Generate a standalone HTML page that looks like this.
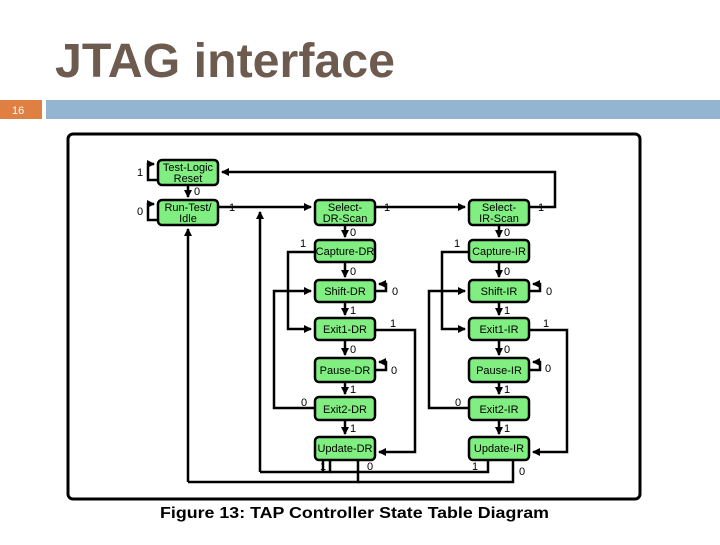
<!DOCTYPE html>
<html><head><style>
body{margin:0;width:720px;height:540px;background:#fff;overflow:hidden;font-family:"Liberation Sans",sans-serif}
</style></head><body>
<svg width="720" height="540" xmlns="http://www.w3.org/2000/svg" font-family="Liberation Sans, sans-serif">
<defs>
<marker id="a" markerWidth="8" markerHeight="8" refX="7" refY="4" orient="auto" markerUnits="userSpaceOnUse"><path d="M0,0 L8,4 L0,8z" fill="#000"/></marker>
</defs>
<text x="55" y="77" font-size="48" font-weight="bold" fill="#6e5b50" textLength="340" lengthAdjust="spacingAndGlyphs">JTAG interface</text>
<rect x="0" y="100" width="42" height="19" fill="#e07f42"/>
<text x="12" y="114" font-size="11" fill="#fff">16</text>
<rect x="46" y="100" width="674" height="19" fill="#94b5d2"/>
<rect x="68" y="134" width="572" height="365" rx="5" fill="#fff" stroke="#000" stroke-width="3"/>
<g stroke="#000" stroke-width="2.5" fill="none">
<polyline points="529,207 555,207 555,172 222,172" marker-end="url(#a)"/>
<polyline points="218,207 311,207" marker-end="url(#a)"/>
<polyline points="375,207 465,207" marker-end="url(#a)"/>
<line x1="260" y1="472" x2="260" y2="212" marker-end="url(#a)"/>
<line x1="188" y1="482" x2="188" y2="229" marker-end="url(#a)"/>
<polyline points="158,180 148,180 148,164 154,164" marker-end="url(#a)"/>
<polyline points="158,220 148,220 148,204 154,204" marker-end="url(#a)"/>
<line x1="188" y1="185" x2="188" y2="197" marker-end="url(#a)"/>
<line x1="345" y1="225" x2="345" y2="237" marker-end="url(#a)"/>
<line x1="345" y1="262" x2="345" y2="277" marker-end="url(#a)"/>
<line x1="345" y1="302" x2="345" y2="315" marker-end="url(#a)"/>
<line x1="345" y1="340" x2="345" y2="355" marker-end="url(#a)"/>
<line x1="345" y1="382" x2="345" y2="394" marker-end="url(#a)"/>
<line x1="345" y1="420" x2="345" y2="434" marker-end="url(#a)"/>
<line x1="499" y1="225" x2="499" y2="237" marker-end="url(#a)"/>
<line x1="499" y1="262" x2="499" y2="277" marker-end="url(#a)"/>
<line x1="499" y1="302" x2="499" y2="315" marker-end="url(#a)"/>
<line x1="499" y1="340" x2="499" y2="355" marker-end="url(#a)"/>
<line x1="499" y1="382" x2="499" y2="394" marker-end="url(#a)"/>
<line x1="499" y1="420" x2="499" y2="434" marker-end="url(#a)"/>
<polyline points="315,252 288,252 288,329 311,329" marker-end="url(#a)"/>
<polyline points="315,408 274,408 274,291 311,291" marker-end="url(#a)"/>
<polyline points="375,291 386,291 386,284 379,284" marker-end="url(#a)"/>
<polyline points="375,370 386,370 386,362 379,362" marker-end="url(#a)"/>
<polyline points="375,330 415,330 415,452 379,452" marker-end="url(#a)"/>
<polyline points="469,252 442,252 442,329 465,329" marker-end="url(#a)"/>
<polyline points="469,408 429,408 429,291 465,291" marker-end="url(#a)"/>
<polyline points="529,291 540,291 540,284 533,284" marker-end="url(#a)"/>
<polyline points="529,370 540,370 540,362 533,362" marker-end="url(#a)"/>
<polyline points="529,330 567,330 567,452 533,452" marker-end="url(#a)"/>
<polyline points="330,460 330,472 260,472"/>
<polyline points="323,460 323,472"/>
<polyline points="488,460 488,472 330,472"/>
<polyline points="358,460 358,482 188,482"/>
<polyline points="513,460 513,482 358,482"/>
</g>
<g fill="#80ee80" stroke="#000" stroke-width="2.5">
<rect x="158" y="160" width="60" height="25" rx="4"/>
<rect x="158" y="200" width="60" height="25" rx="4"/>
<rect x="315" y="200" width="60" height="25" rx="4"/>
<rect x="315" y="240" width="60" height="22" rx="4"/>
<rect x="315" y="280" width="60" height="22" rx="4"/>
<rect x="315" y="318" width="60" height="22" rx="4"/>
<rect x="315" y="358" width="60" height="24" rx="4"/>
<rect x="315" y="397" width="60" height="23" rx="4"/>
<rect x="315" y="437" width="60" height="23" rx="4"/>
<rect x="469" y="200" width="60" height="25" rx="4"/>
<rect x="469" y="240" width="60" height="22" rx="4"/>
<rect x="469" y="280" width="60" height="22" rx="4"/>
<rect x="469" y="318" width="60" height="22" rx="4"/>
<rect x="469" y="358" width="60" height="24" rx="4"/>
<rect x="469" y="397" width="60" height="23" rx="4"/>
<rect x="469" y="437" width="60" height="23" rx="4"/>
</g>
<g font-size="11" text-anchor="middle" fill="#000">
<text x="188" y="171">Test-Logic</text><text x="188" y="182">Reset</text>
<text x="188" y="211">Run-Test/</text><text x="188" y="222">Idle</text>
<text x="345" y="211">Select-</text><text x="345" y="222">DR-Scan</text>
<text x="345" y="255">Capture-DR</text>
<text x="345" y="295">Shift-DR</text>
<text x="345" y="333">Exit1-DR</text>
<text x="345" y="374">Pause-DR</text>
<text x="345" y="413">Exit2-DR</text>
<text x="345" y="452">Update-DR</text>
<text x="499" y="211">Select-</text><text x="499" y="222">IR-Scan</text>
<text x="499" y="255">Capture-IR</text>
<text x="499" y="295">Shift-IR</text>
<text x="499" y="333">Exit1-IR</text>
<text x="499" y="374">Pause-IR</text>
<text x="499" y="413">Exit2-IR</text>
<text x="499" y="452">Update-IR</text>
</g>
<g font-size="11" fill="#000">
<text x="137" y="176">1</text><text x="137" y="215">0</text><text x="194" y="195">0</text>
<text x="229" y="211">1</text><text x="384" y="211">1</text><text x="538" y="211">1</text>
<text x="350" y="236">0</text><text x="350" y="275">0</text><text x="350" y="314">1</text><text x="350" y="353">0</text><text x="350" y="393">1</text><text x="350" y="432">1</text>
<text x="504" y="236">0</text><text x="504" y="275">0</text><text x="504" y="314">1</text><text x="504" y="353">0</text><text x="504" y="393">1</text><text x="504" y="432">1</text>
<text x="300" y="247">1</text><text x="454" y="247">1</text>
<text x="392" y="295">0</text><text x="546" y="295">0</text>
<text x="391" y="374">0</text><text x="545" y="372">0</text>
<text x="390" y="327">1</text><text x="543" y="327">1</text>
<text x="301" y="406">0</text><text x="455" y="406">0</text>
<text x="320" y="470">1</text><text x="367" y="470">0</text><text x="472" y="470">1</text><text x="519" y="475">0</text>
</g>
<text x="160" y="518" font-size="16" font-weight="bold" textLength="389" lengthAdjust="spacingAndGlyphs">Figure 13:  TAP Controller State Table Diagram</text>
</svg>
</body></html>
